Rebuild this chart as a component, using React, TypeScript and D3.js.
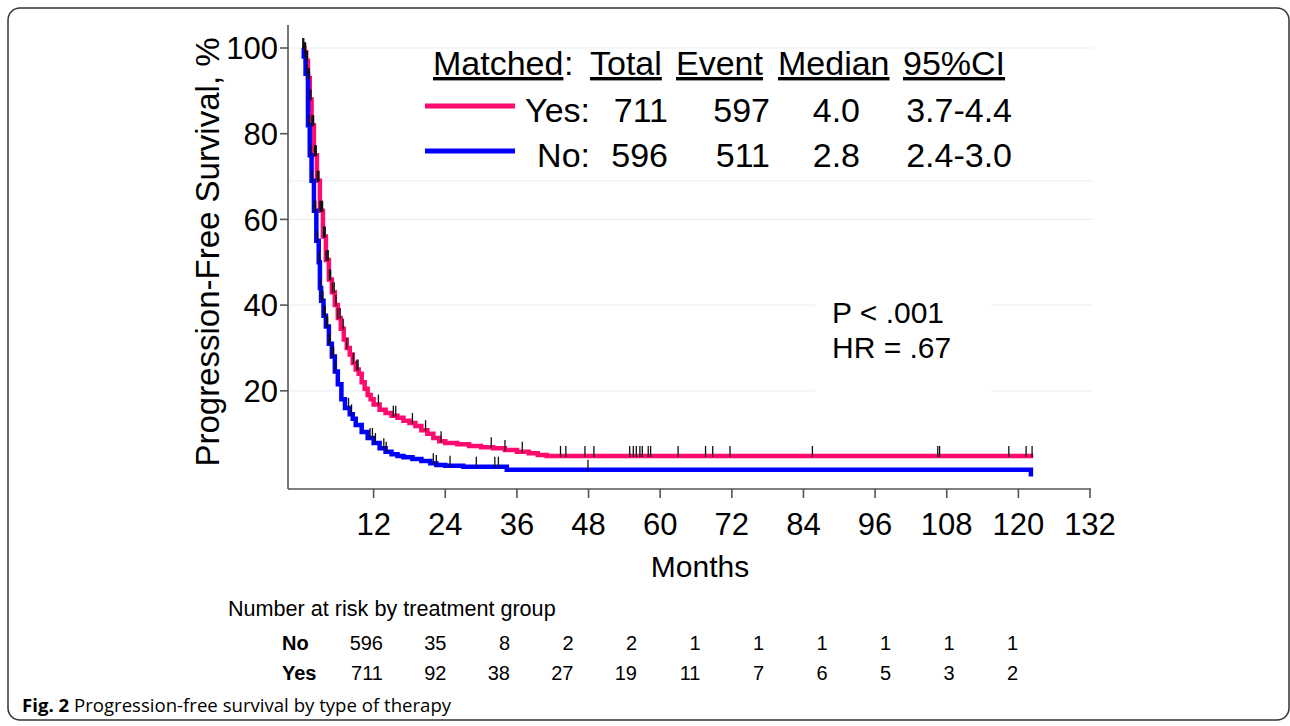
import React from "react";
import * as d3 from "d3";

const yTicks = [20, 40, 60, 80, 100];
const xTicks = [12, 24, 36, 48, 60, 72, 84, 96, 108, 120, 132];

const yesCurve: [number, number][] = [
  [0, 100], [0.4, 99], [0.7, 97], [1.0, 93], [1.3, 88], [1.6, 82], [2.0, 75], [2.5, 69],
  [3.0, 62], [3.5, 56], [4.0, 50.5], [4.5, 46], [5.0, 43], [5.5, 40], [6.0, 37], [6.5, 34.5],
  [7.0, 32], [7.5, 30], [8.0, 28.5], [8.5, 26.5], [9.0, 25], [9.5, 24], [10, 22], [10.5, 20.5],
  [11, 19], [11.5, 18], [12, 16.8], [13, 15.6], [14, 14.8], [15, 14.2], [16, 13.7], [17, 13],
  [18, 12.5], [19, 11.8], [20, 10.8], [21, 10], [22, 9], [23, 8.2], [24, 7.8], [26, 7.5],
  [28, 7.1], [30, 6.8], [32, 6.6], [34, 6.2], [36, 5.8], [38, 5.4], [39.5, 5.0], [41, 4.8],
  [122.5, 4.8],
];

const noCurve: [number, number][] = [
  [0, 100], [0.3, 98], [0.6, 94], [1.0, 82], [1.3, 75], [1.6, 69], [2.0, 62], [2.4, 55],
  [2.8, 50], [3.0, 44], [3.2, 41], [3.6, 37.5], [4.0, 35], [4.5, 31], [5.0, 28], [5.5, 24.5],
  [6.0, 21.5], [6.6, 18], [7.2, 16], [8.0, 14.5], [8.5, 13.5], [9.0, 12], [10, 10.4], [11, 9],
  [12, 7.8], [13, 6.6], [14, 5.8], [15, 5.2], [16, 4.8], [17, 4.5], [18.5, 4.1], [20, 3.6],
  [21.5, 3.1], [22.5, 2.7], [24, 2.5], [27, 2.3], [34.3, 1.6], [122.1, 0],
];

const yesCensor = [
  0.15, 0.3, 0.45, 0.6, 0.75, 0.9, 1.05, 1.2, 1.35, 1.5, 1.65, 1.8, 1.95, 2.1, 2.25, 2.4,
  2.55, 2.7, 2.85, 3.0, 3.15, 3.3, 3.45, 3.6, 3.75, 3.9, 4.05, 4.2, 4.4, 4.6, 4.8, 5.1, 5.4,
  5.7, 6.0, 6.4, 6.9, 7.5, 8.6, 9.2, 9.4, 12.8, 15.3, 15.7, 18.5, 20.7, 23.3, 31.7, 34, 36.9,
  43.3, 44.2, 47.4, 48.9, 54.9, 55.5, 56, 56.6, 57, 58, 58.4, 63, 67.6, 68.8, 71.7, 85.5,
  106.5, 106.8, 118.4, 121.3, 122.3,
];
const noCensor = [
  0.2, 0.5, 0.8, 1.1, 1.4, 1.7, 2.0, 2.3, 2.6, 2.9, 3.1, 3.3, 3.5, 3.7, 3.9, 4.1, 4.3, 4.5,
  4.7, 5.0, 5.3, 5.6, 7.8, 8.3, 11.4, 11.8, 12.3, 13.7, 14.1, 22, 22.5, 24.8, 29.2, 32.3,
  32.9, 47.9,
];

const legendHeader = ["Matched", "Total", "Event", "Median", "95%CI"];
const legendYes = ["Yes:", "711", "597", "4.0", "3.7-4.4"];
const legendNo = ["No:", "596", "511", "2.8", "2.4-3.0"];

const riskNo = ["596", "35", "8", "2", "2", "1", "1", "1", "1", "1", "1"];
const riskYes = ["711", "92", "38", "27", "19", "11", "7", "6", "5", "3", "2"];

const PINK = "#ff0a6e";
const BLUE = "#0000ff";
const FONT = "'Liberation Sans', Arial, Helvetica, sans-serif";

function stepValue(curve: [number, number][], t: number) {
  let v = curve[0][1];
  for (const [ti, vi] of curve) {
    if (ti <= t) v = vi;
    else break;
  }
  return v;
}

export default function App() {
  const x = d3.scaleLinear().domain([0, 132]).range([302, 1090]);
  const y = d3.scaleLinear().domain([0, 100]).range([476.5, 48]);
  const line = d3
    .line<[number, number]>()
    .x((d) => x(d[0]))
    .y((d) => y(d[1]))
    .curve(d3.curveStepAfter);
  const riskX = d3.scaleLinear().domain([0, 10]).range([383, 1018]);

  const axisY = 489;
  const axisX = 288;

  const hdrX = [433, 590, 676, 778, 903];
  const colRight = [590, 668, 770, 860, 1012];

  return (
    <svg
      width={1290}
      height={726}
      style={{ position: "absolute", left: 0, top: 0, display: "block", background: "#fff" }}
      fontFamily={FONT}
    >
      <rect x={0} y={0} width={1290} height={726} fill="#fff" />
      <rect x={8} y={8} width={1281} height={712} rx={12} fill="none" stroke="#333" strokeWidth={1.5} />

      {yTicks.map((t) => (
        <line key={"g" + t} x1={290} x2={1093} y1={y(t)} y2={y(t)} stroke="#eaf0f0" strokeWidth={1.2} />
      ))}

      <rect x={290} y={50} width={803} height={131} fill="#fff" />
      <line x1={290} x2={1093} y1={181} y2={181} stroke="#eaf0f0" strokeWidth={1.2} />

      <rect x={815} y={293} width={176} height={103} fill="#fff" />

      <path d={line(yesCurve) || ""} fill="none" stroke={PINK} strokeWidth={4.5} />
      <path d={line(noCurve) || ""} fill="none" stroke={BLUE} strokeWidth={4.5} />

      {yesCensor.map((t, i) => {
        const yy = y(stepValue(yesCurve, t));
        return <line key={"cy" + i} x1={x(t)} x2={x(t)} y1={yy + 1} y2={yy - 10} stroke="#111" strokeWidth={1.3} />;
      })}
      {noCensor.map((t, i) => {
        const yy = y(stepValue(noCurve, t));
        return <line key={"cn" + i} x1={x(t)} x2={x(t)} y1={yy + 1} y2={yy - 10} stroke="#111" strokeWidth={1.3} />;
      })}

      <line x1={axisX} x2={axisX} y1={25} y2={axisY} stroke="#555" strokeWidth={1.6} />
      <line x1={axisX} x2={1091} y1={axisY} y2={axisY} stroke="#555" strokeWidth={1.6} />
      {yTicks.map((t) => (
        <g key={"yt" + t}>
          <line x1={axisX - 8} x2={axisX} y1={y(t)} y2={y(t)} stroke="#555" strokeWidth={1.6} />
          <text x={axisX - 10} y={y(t)} dy="0.36em" textAnchor="end" fontSize={31} fill="#000">
            {t}
          </text>
        </g>
      ))}
      {xTicks.map((t) => (
        <g key={"xt" + t}>
          <line x1={x(t)} x2={x(t)} y1={axisY} y2={axisY + 9} stroke="#555" strokeWidth={1.6} />
          <text x={x(t)} y={535} textAnchor="middle" fontSize={31} fill="#000">
            {t}
          </text>
        </g>
      ))}
      <text x={700} y={577} textAnchor="middle" fontSize={30} fill="#000">
        Months
      </text>
      <text
        transform="translate(219,252) rotate(-90)"
        textAnchor="middle"
        fontSize={33}
        fill="#000"
      >
        Progression-Free Survival, %
      </text>

      {legendHeader.map((h, i) => (
        <text key={"lh" + i} x={hdrX[i]} y={75} fontSize={34} fill="#000" textDecoration="underline">
          {h}
        </text>
      ))}
      <text x={hdrX[0] + 131} y={75} fontSize={34} fill="#000">:</text>
      <line x1={425} x2={515} y1={106} y2={106} stroke={PINK} strokeWidth={5} />
      <line x1={425} x2={515} y1={151} y2={151} stroke={BLUE} strokeWidth={5} />
      {legendYes.map((s, i) => (
        <text key={"ly" + i} x={colRight[i]} y={122} textAnchor="end" fontSize={34} fill="#000">
          {s}
        </text>
      ))}
      {legendNo.map((s, i) => (
        <text key={"ln" + i} x={colRight[i]} y={167} textAnchor="end" fontSize={34} fill="#000">
          {s}
        </text>
      ))}

      <text x={832} y={323} fontSize={30} fill="#000">P &lt; .001</text>
      <text x={832} y={358} fontSize={30} fill="#000">HR = .67</text>

      <text x={228} y={616} fontSize={21.6} fill="#000">Number at risk by treatment group</text>
      <text x={282} y={650} fontSize={20} fontWeight="bold" fill="#000">No</text>
      <text x={282} y={680} fontSize={20} fontWeight="bold" fill="#000">Yes</text>
      {riskNo.map((s, i) => (
        <text key={"rn" + i} x={riskX(i)} y={650} textAnchor="end" fontSize={20} fill="#000">{s}</text>
      ))}
      {riskYes.map((s, i) => (
        <text key={"ry" + i} x={riskX(i)} y={680} textAnchor="end" fontSize={20} fill="#000">{s}</text>
      ))}

      <text x={22} y={712} fontSize={18.6} fontFamily="'Open Sans', 'Noto Sans', sans-serif" fill="#000">
        <tspan fontWeight="bold">Fig. 2</tspan>
        <tspan> Progression-free survival by type of therapy</tspan>
      </text>
    </svg>
  );
}
